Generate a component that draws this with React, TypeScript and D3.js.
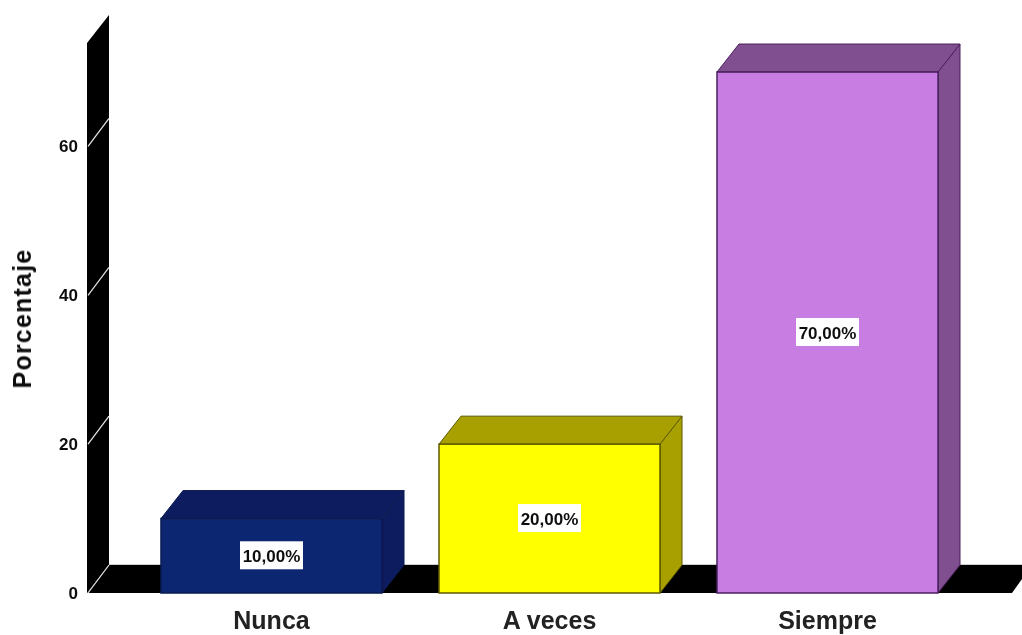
import React from "react";
import * as d3 from "d3";

const categories = ["Nunca", "A veces", "Siempre"];
const values = [10, 20, 70];
const valueLabels = ["10,00%", "20,00%", "70,00%"];
const yTicks = [0, 20, 40, 60];
const frontColors = ["#0b2672", "#ffff00", "#c87de3"];
const darkColors = ["#0a1f5e", "#a8a000", "#7f4f8f"];
const edgeColors = ["#081a50", "#5c5800", "#4a1f5e"];

const WIDTH = 1022;
const HEIGHT = 635;
const DX = 22;
const DY = -28;
const font = "'Liberation Sans', Arial, sans-serif";

export default function App() {
  const y = d3.scaleLinear().domain([0, 73.9]).range([593, 43]);
  const x = d3
    .scaleBand<string>()
    .domain(categories)
    .range([132.5, 966.5])
    .paddingInner(0.205)
    .paddingOuter(0.1025);
  const poly = (pts: [number, number][]) => d3.line()(pts) + "Z";
  const wallL = 87;
  const floorR = 1012;
  const top = y(73.9);
  const bottom = y(0);

  return (
    <svg
      width={WIDTH}
      height={HEIGHT}
      style={{ position: "absolute", left: 0, top: 0, background: "#fff" }}
      fontFamily={font}
    >
      <defs>
        <filter id="soft" x="-5%" y="-5%" width="110%" height="110%">
          <feGaussianBlur stdDeviation="0.45" />
        </filter>
      </defs>
      <g filter="url(#soft)">
        <path
          d={poly([
            [wallL, bottom],
            [wallL, top],
            [wallL + DX, top + DY],
            [wallL + DX, bottom + DY],
          ])}
          fill="#000"
        />
        <path
          d={poly([
            [wallL, bottom],
            [wallL + DX, bottom + DY],
            [WIDTH + 10, bottom + DY],
            [floorR, bottom],
          ])}
          fill="#000"
        />
        <line x1={wallL + DX} x2={WIDTH} y1={bottom + DY - 0.5} y2={bottom + DY - 0.5} stroke="#cfcfcf" strokeWidth={1} />
        {yTicks.map((t) => (
          <g key={t}>
            <line x1={wallL + 1} y1={y(t)} x2={wallL + DX} y2={y(t) + DY} stroke="#e8e8e8" strokeWidth={1.2} />
            <text x={78} y={y(t) - 0.5} dy="0.36em" textAnchor="end" fontSize={17} fontWeight={700} fill="#111">
              {t}
            </text>
          </g>
        ))}
        {categories.map((c, i) => {
          const x0 = x(c)!;
          const x1 = x0 + x.bandwidth();
          const yv = y(values[i]);
          return (
            <g key={c}>
              <path
                d={poly([
                  [x1, bottom],
                  [x1 + DX, bottom + DY],
                  [x1 + DX, yv + DY],
                  [x1, yv],
                ])}
                fill={darkColors[i]}
                stroke={edgeColors[i]}
                strokeWidth={1}
              />
              <path
                d={poly([
                  [x0, yv],
                  [x0 + DX, yv + DY],
                  [x1 + DX, yv + DY],
                  [x1, yv],
                ])}
                fill={darkColors[i]}
                stroke={edgeColors[i]}
                strokeWidth={1}
              />
              <rect
                x={x0}
                y={yv}
                width={x.bandwidth()}
                height={bottom - yv}
                fill={frontColors[i]}
                stroke={edgeColors[i]}
                strokeWidth={1.5}
              />
              <rect x={x0 + x.bandwidth() / 2 - 31.5} y={(yv + bottom) / 2 - 14.5} width={63} height={28} fill="#fff" />
              <text
                x={x0 + x.bandwidth() / 2}
                y={(yv + bottom) / 2}
                dy="0.36em"
                textAnchor="middle"
                fontSize={17}
                fontWeight={700}
                fill="#111"
              >
                {valueLabels[i]}
              </text>
              <text
                x={x0 + x.bandwidth() / 2}
                y={629}
                textAnchor="middle"
                fontSize={25}
                fontWeight={700}
                fill="#222"
              >
                {c}
              </text>
            </g>
          );
        })}
        <text
          transform="translate(31,318.5) rotate(-90)"
          textAnchor="middle"
          fontSize={25}
          fontWeight={700}
          letterSpacing={1.2}
          fill="#111"
        >
          Porcentaje
        </text>
      </g>
    </svg>
  );
}
